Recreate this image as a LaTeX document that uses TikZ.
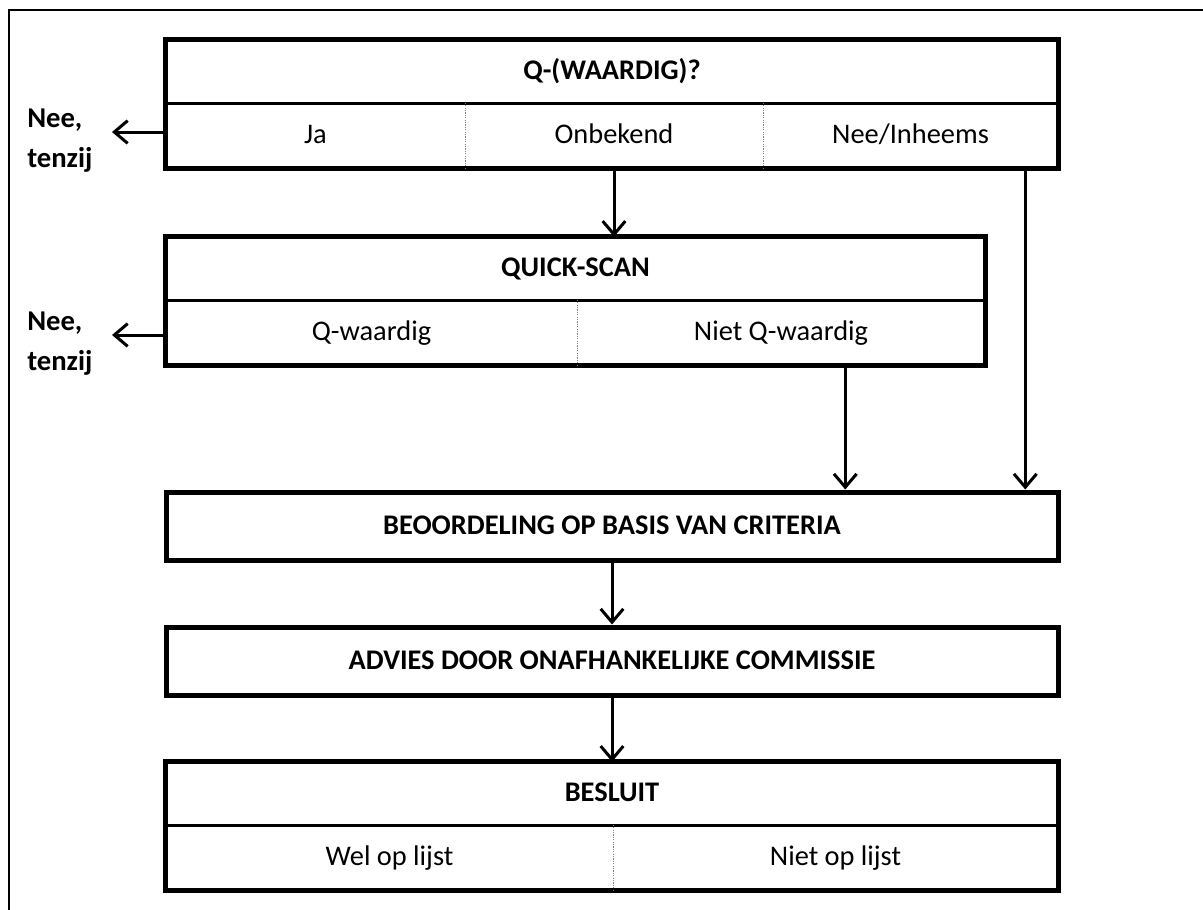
\documentclass[tikz,border=0pt]{standalone}
\usepackage{fontspec}
\setmainfont{Carlito}
\usetikzlibrary{arrows.meta}
\begin{document}
\begin{tikzpicture}[x=0.75pt,y=-0.75pt,
  cell/.style={inner sep=0pt, text height=16.5pt, text depth=4.5pt, font=\fontsize{21.3}{25}\selectfont},
  titlecell/.style={cell, font=\fontsize{21.3}{25}\selectfont\bfseries},
  outerline/.style={line width=3.75pt, line join=miter},
  midline/.style={line width=2.25pt},
  dotdiv/.style={line width=0.9pt, gray, dash pattern=on 0.9pt off 0.9pt},
  arr/.style={line width=2.25pt, -{Straight Barb[length=10pt, width=17pt, line width=2.25pt]}},
  sidelabel/.style={inner sep=0pt, align=left, font=\fontsize{21.5}{30}\selectfont\bfseries},
  frameline/.style={line width=1.5pt}
]
\useasboundingbox (0,0) rectangle (1203,910);
\draw[frameline] (9,910) -- (9,10) -- (1203,10);

% Box 1
\node[titlecell, minimum width=669pt, minimum height=47.25pt] (q1t) at (612,71.5) {Q-(WAARDIG)?};
\node[cell, minimum width=224.25pt, minimum height=48.75pt] (q1a) at (315.5,135.5) {Ja};
\node[cell, minimum width=223.5pt, minimum height=48.75pt] (q1b) at (614,135.5) {Onbekend};
\node[cell, minimum width=221.25pt, minimum height=48.75pt] (q1c) at (910.5,135.5) {Nee/Inheems};
\draw[outerline] (q1t.north west) rectangle (q1c.south east);
\draw[midline] (q1t.south west) -- (q1t.south east);
\draw[dotdiv] (q1a.north east) -- (q1a.south east);
\draw[dotdiv] (q1b.north east) -- (q1b.south east);

% Box 2
\node[titlecell, minimum width=614.25pt, minimum height=47.25pt] (q2t) at (575.5,268.5) {QUICK-SCAN};
\node[cell, minimum width=308.25pt, minimum height=48.75pt] (q2a) at (371.5,332.5) {Q-waardig};
\node[cell, minimum width=306pt, minimum height=48.75pt] (q2b) at (781,332.5) {Niet Q-waardig};
\draw[outerline] (q2t.north west) rectangle (q2b.south east);
\draw[midline] (q2t.south west) -- (q2t.south east);
\draw[dotdiv] (q2a.north east) -- (q2a.south east);

% Box 3
\node[titlecell, draw, outerline, minimum width=669pt, minimum height=51pt] (b3) at (612,526) {BEOORDELING OP BASIS VAN CRITERIA};
% Box 4
\node[titlecell, draw, outerline, minimum width=669pt, minimum height=51pt] (b4) at (612,661) {ADVIES DOOR ONAFHANKELIJKE COMMISSIE};

% Box 5
\node[titlecell, minimum width=669pt, minimum height=47.25pt] (b5t) at (612,793.5) {BESLUIT};
\node[cell, minimum width=335.25pt, minimum height=48.75pt] (b5a) at (389.5,857.5) {Wel op lijst};
\node[cell, minimum width=333.75pt, minimum height=48.75pt] (b5b) at (835.5,857.5) {Niet op lijst};
\draw[outerline] (b5t.north west) rectangle (b5b.south east);
\draw[midline] (b5t.south west) -- (b5t.south east);
\draw[dotdiv] (b5a.north east) -- (b5a.south east);

% Side labels
\node[sidelabel, anchor=west] (l1) at (27,141) {Nee,\\tenzij};
\node[sidelabel, anchor=west] (l2) at (27,344) {Nee,\\tenzij};
\coordinate (t1) at (112,132);
\coordinate (t2) at (112,335);
\draw[arr] (q1a.west |- t1) -- (t1);
\draw[arr] (q2a.west |- t2) -- (t2);

% Vertical arrows
\draw[arr] (q1b.south) -- (q1b.south |- q2t.north);
\draw[arr] ([xshift=-105pt]q2b.south east) -- ([xshift=-105pt]q2b.south east |- b3.north);
\draw[arr] ([xshift=-24.75pt]q1c.south east) -- ([xshift=-24.75pt]q1c.south east |- b3.north);
\draw[arr] (b3.south) -- (b4.north);
\draw[arr] (b4.south) -- (b4.south |- b5t.north);
\end{tikzpicture}
\end{document}
